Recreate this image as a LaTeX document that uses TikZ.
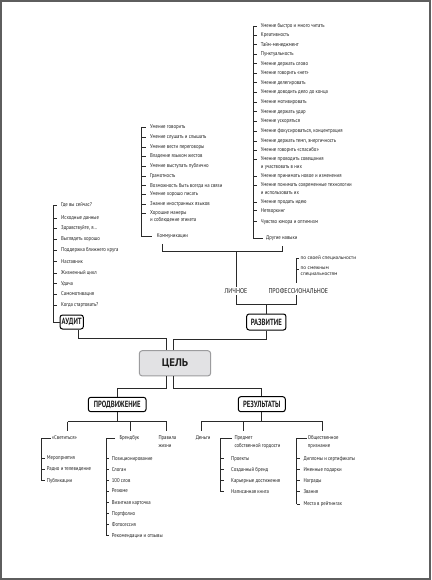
\documentclass[tikz,border=0pt]{standalone}
\usepackage{fontspec}
\setmainfont{PT Sans}
\newfontfamily\itf[FakeStretch=0.85]{PT Sans}
\newfontfamily\hdf[FakeStretch=0.74]{PT Sans}
\newfontfamily\cef{PT Sans}
\definecolor{lnc}{HTML}{2A2A2A}
\definecolor{txc}{HTML}{1E1E1E}
\definecolor{celf}{HTML}{E2E2E4}
\definecolor{celd}{HTML}{9C9C9E}
\definecolor{frm}{HTML}{5E5E5E}
\begin{document}
\begin{tikzpicture}[x=1pt,y=-1pt,
 itm/.style={font=\itf\fontsize{5.6}{7.4}\selectfont, text=txc, inner sep=0pt, anchor=west, text height=3.9pt, text depth=1.2pt},
 itmm/.style={font=\itf\fontsize{5.6}{7.4}\selectfont, text=txc, inner sep=0pt, anchor=north west, align=left},
 sml/.style={font=\cef\fontsize{5.2}{5.4}\selectfont, text=txc, inner sep=0pt, anchor=west, text height=3.6pt, text depth=1pt},
 smlm/.style={font=\cef\fontsize{5.2}{5.4}\selectfont, text=txc, inner sep=0pt, anchor=north west, align=left},
 cat/.style={font=\itf\fontsize{7}{8}\selectfont, text=txc, inner sep=0pt, text height=5pt, text depth=0pt},
 hbox/.style={draw=black, line width=1pt, rounded corners=2.5pt, fill=white, text=txc, font=\hdf\bfseries\fontsize{9}{9}\selectfont, inner sep=0pt},
 ln/.style={draw=lnc, line width=0.75pt},
]
\useasboundingbox (0,0) rectangle (431,580);
\fill[white] (0,0) rectangle (431,580);
\draw[frm, line width=1.8pt] (1,1) rectangle (430,579);

% ---------- other skills ----------
\coordinate (ob) at (253,0);
\foreach \i/\y/\t in {1/26/{Умение быстро и много читать},2/35/{Креативность},3/44.7/{Тайм-менеджмент},4/54.3/{Пунктуальность},5/63.7/{Умение держать слово},6/73.3/{Умение говорить «нет»},7/82.7/{Умение делегировать},8/92.3/{Умение доводить дело до конца},9/102/{Умение мотивировать},10/111.7/{Умение держать удар},11/121/{Умение ускоряться},12/131/{Умение фокусироваться, концентрация},13/141/{Умение держать темп, энергичность},14/150/{Умение говорить «спасибо»},16/176/{Умение принимать новое и изменения},18/202.3/{Умение продать идею},19/210.7/{Нетворкинг},20/221.7/{Чувство юмора и оптимизм}}{
  \node[itm] (o\i) at (260.7,\y) {\t};
  \draw[ln] (o\i.west -| ob) -- ++(4,0);
}
\node[itmm] (o15) at (260.7,156.7) {Умение проводить совещания\\и участвовать в них};
\node[itmm] (o17) at (260.7,182.7) {Умение понимать современные технологии\\и использовать их};
\draw[ln] ([yshift=-2.6pt]o15.north west -| ob) -- ++(4,0);
\draw[ln] ([yshift=-2.6pt]o17.north west -| ob) -- ++(4,0);
\node[itm] (drug) at (266,238.3) {Другие навыки};
\draw[ln] (o1.west -| ob) -- (ob |- drug.west) -- ([xshift=-2.7pt]drug.west);

% ---------- communication ----------
\coordinate (kb) at (141.7,0);
\foreach \i/\y/\t in {1/127/{Умение говорить},2/137.3/{Умение слушать и слышать},3/147.3/{Умение вести переговоры},4/156/{Владение языком жестов},5/166/{Умение выступать публично},6/176/{Грамотность},7/185.7/{Возможность быть всегда на связи},8/194.3/{Умение хорошо писать},9/204.3/{Знание иностранных языков}}{
  \node[itm] (c\i) at (150,\y) {\t};
  \draw[ln] (c\i.west -| kb) -- ++(4,0);
}
\node[itmm] (c10) at (150,210.4) {Хорошие манеры\\и соблюдение этикета};
\draw[ln] ([yshift=-2.6pt]c10.north west -| kb) -- ++(4,0);
\node[itm] (komm) at (156.7,236.3) {Коммуникации};
\draw[ln] (c1.west -| kb) -- (kb |- komm.west) -- ([xshift=-5pt]komm.west);

% ---------- development ----------
\node[cat] (lich) at (236,290.7) {ЛИЧНОЕ};
\node[cat] (prof) at (298.3,290.7) {ПРОФЕССИОНАЛЬНОЕ};
\coordinate (j1) at (162.3,251.7);
\coordinate (j2) at (282.3,251.7);
\draw[ln] ([yshift=-4.8pt]komm.south -| j1) -- (j1) -- (j2) -- ([yshift=-4.5pt]drug.south -| j2);
\draw[ln] (lich.north |- j1) -- ([yshift=1.5pt]lich.north);
\coordinate (pb) at (296.7,0);
\node[sml] (ps1) at (300.5,258.3) {по своей специальности};
\node[smlm] (ps2) at (300.5,266.9) {по смежным\\специальностям};
\draw[ln] ([xshift=-1.5pt]ps1.west) -- (ps1.west -| pb) -- (296.7,282.7);
\draw[ln] ([yshift=-2.4pt]ps2.north west -| pb) -- ++(2.5,0);
\node[hbox, minimum width=39.3pt, minimum height=16pt] (razv) at (266.3,322) {РАЗВИТИЕ};
\coordinate (lb) at (236,304);
\draw[ln] ([yshift=-1.8pt]lich.south) -- (lb) -- (pb |- lb) -- (296.7,295);
\draw[ln] (razv.north |- lb) -- (razv.north);

% ---------- audit ----------
\coordinate (ab) at (53.3,0);
\foreach \i/\y/\t in {1/205/{Где вы сейчас?},2/218/{Исходные данные},3/228/{Здравствуйте, я...},4/239/{Выглядеть хорошо},5/250.3/{Поддержка ближнего круга},6/261.7/{Наставник},7/273/{Жизненный цикл},8/283.7/{Удача},9/294.3/{Самомотивация},10/305/{Когда стартовать?}}{
  \node[itm] (a\i) at (61,\y) {\t};
  \draw[ln] (a\i.west -| ab) -- ++(4,0);
}
\node[hbox, minimum width=23.3pt, minimum height=14pt] (audit) at (71.7,322) {АУДИТ};
\draw[ln] (a1.west -| ab) -- (ab |- audit.west) -- (audit.west);

% ---------- goal ----------
\node[draw=celd, fill=celf, line width=1pt, rounded corners=3pt, minimum width=71.4pt, minimum height=25.3pt, inner sep=0pt, text=txc, font=\cef\bfseries\fontsize{11}{11}\selectfont] (cel) at (175,363.3) {ЦЕЛЬ};
\coordinate (cA) at (166.7,338.5);
\coordinate (cB) at (173.3,339);
\draw[ln] ([xshift=6.6pt]audit.south) |- (cA) -- (cA |- cel.north);
\draw[ln] (razv.south) |- (cB) -- (cB |- cel.north);

\node[hbox, minimum width=57.7pt, minimum height=14.4pt] (prod) at (117.2,404.5) {ПРОДВИЖЕНИЕ};
\node[hbox, minimum width=47pt, minimum height=15pt] (rez) at (261.8,404.2) {РЕЗУЛЬТАТЫ};
\draw[ln] (cel.south -| cA) -- ++(0,11.5) -| (prod.north);
\draw[ln] (cel.south -| cB) -- ++(0,11.5) -| (rez.north);

% ---------- promotion ----------
\coordinate (pL) at (67.7,421.7);
\coordinate (pM) at (130,421.7);
\coordinate (pR) at (166.7,421.7);
\draw[ln] (prod.south) -- (prod.south |- pL);
\draw[ln] (pL) -- (pR);
\draw[ln] (pL) -- ++(0,9.5);
\draw[ln] (pM) -- ++(0,9.5);
\draw[ln] (pR) -- ++(0,9.5);

\node[itm] (svet) at (51.7,438.3) {«Светиться»};
\coordinate (sb) at (41.7,0);
\foreach \i/\y/\t in {1/458.3/{Мероприятия},2/469.3/{Радио и телевидение},3/480.7/{Публикации}}{
  \node[itm] (s\i) at (46.7,\y) {\t};
}
\draw[ln] (s1.west -| sb) -- ++(3.3,0);
\draw[ln] (s2.west -| sb) -- ++(3.3,0);
\draw[ln] ([xshift=-1pt]svet.west) -- (svet.west -| sb) -- (sb |- s3.west) -- ([xshift=-1.7pt]s3.west);

\node[itm] (brend) at (119.3,438.3) {Брендбук};
\coordinate (bb) at (106,0);
\foreach \i/\y/\t in {1/458.7/{Позиционирование},2/469.7/{Слоган},3/480.7/{100 слов},4/491.3/{Резюме},5/502.7/{Визитная карточка},6/513.7/{Портфолио},7/524.7/{Фотосессия},8/535.7/{Рекомендации и отзывы}}{
  \node[itm] (b\i) at (111.7,\y) {\t};
  \draw[ln] (b\i.west -| bb) -- ++(3.3,0);
}
\draw[ln] ([xshift=-4.3pt]brend.west) -- (brend.west -| bb) -- (bb |- b8.west);

\node[itmm] (prav) at (158.3,435.7) {Правила\\жизни};

% ---------- results ----------
\coordinate (rL) at (201.7,421);
\coordinate (rM) at (243.3,421);
\coordinate (rR) at (322.7,421);
\draw[ln] (rez.south) -- (rez.south |- rL);
\draw[ln] (rL) -- (rR);
\draw[ln] (rL) -- ++(0,10);
\draw[ln] (rM) -- ++(0,10);
\draw[ln] (rR) -- ++(0,10);

\node[itm] (den) at (195.7,438.3) {Деньги};

\node[itmm] (pred) at (234.3,435.7) {Предмет\\собственной гордости};
\coordinate (rb) at (220.7,0);
\foreach \i/\y/\t in {1/458.7/{Проекты},2/469.7/{Созданный бренд},3/480.7/{Карьерные достижения},4/491.7/{Написанная книга}}{
  \node[itm] (r\i) at (231,\y) {\t};
  \draw[ln] (r\i.west -| rb) -- ++(3.5,0);
}
\draw[ln] ([yshift=-2.6pt,xshift=-2.6pt]pred.north west) -- ([yshift=-2.6pt]pred.north west -| rb) -- (rb |- r4.west);

\node[itmm] (obsh) at (307.7,435.7) {Общественное\\признание};
\coordinate (qb) at (296.7,0);
\foreach \i/\y/\t in {1/458.7/{Дипломы и сертификаты},2/469.7/{Именные подарки},3/480.7/{Награды},4/491.7/{Звания},5/504/{Места в рейтингах}}{
  \node[itm] (q\i) at (303.3,\y) {\t};
  \draw[ln] (q\i.west -| qb) -- ++(3,0);
}
\draw[ln] ([yshift=-2.6pt,xshift=-1pt]obsh.north west) -- ([yshift=-2.6pt]obsh.north west -| qb) -- (qb |- q5.west);
\end{tikzpicture}
\end{document}
